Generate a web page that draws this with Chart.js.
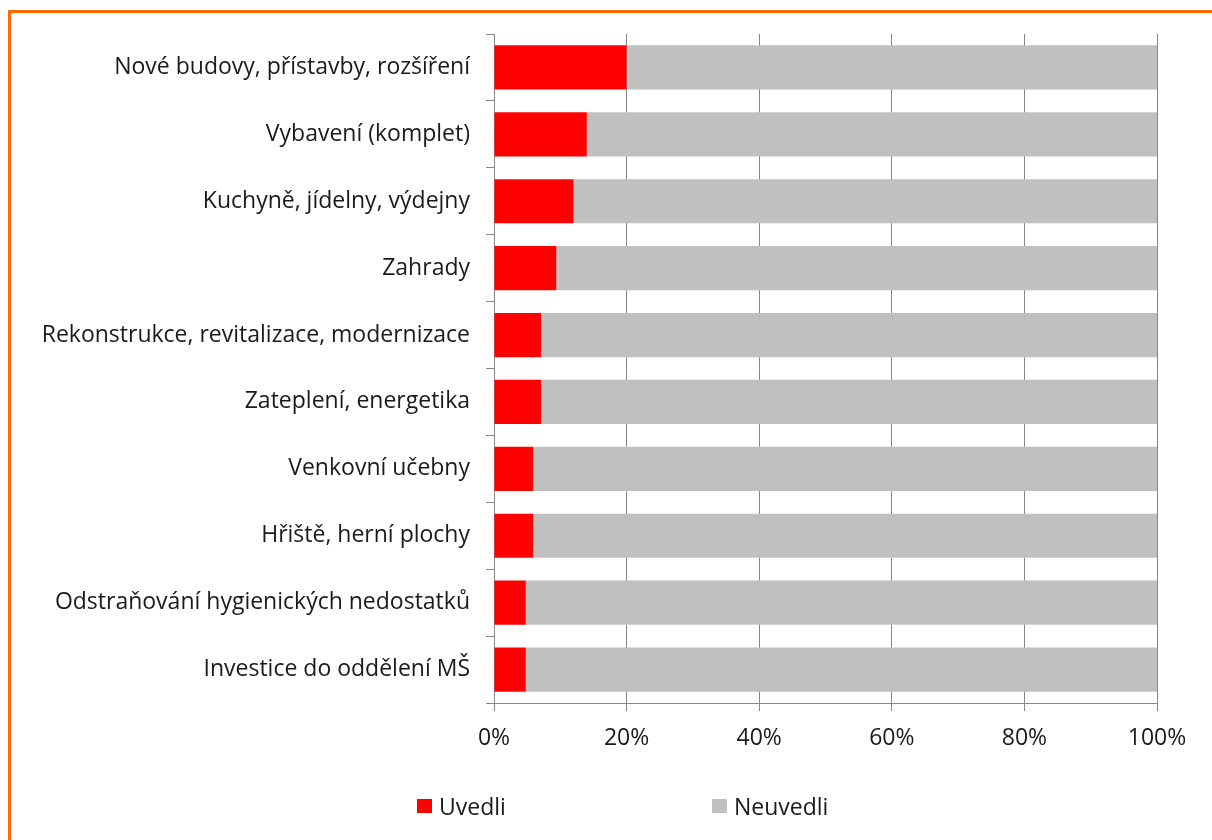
<!DOCTYPE html>
<html>
<head>
<meta charset="utf-8">
<script src="https://cdn.jsdelivr.net/npm/chart.js@4/dist/chart.umd.min.js"></script>
<style>
  html, body { margin:0; padding:0; background:#fff; }
  #wrap { position:relative; width:1212px; height:840px; overflow:hidden; }
  #frame { position:absolute; left:8px; top:10px; width:1300px; height:900px;
           border-left:3px solid #FF6A00; border-top:3px solid #FF6A00; }
  #c { position:absolute; left:0; top:0; }
  #legend { position:absolute; top:790px; left:0; width:1212px; height:30px;
            font-family: "Open Sans", sans-serif; font-size:23px; color:#1a1a1a; }
  .item { position:absolute; top:0; display:flex; align-items:center; }
  .box { width:15px; height:14px; margin-right:7px; }
</style>
</head>
<body>
<div id="wrap">
  <div id="frame"></div>
  <canvas id="c" width="1212" height="840"></canvas>
  <div id="legend"></div>
</div>
<script>
const categories = [
  "Nové budovy, přístavby, rozšíření",
  "Vybavení (komplet)",
  "Kuchyně, jídelny, výdejny",
  "Zahrady",
  "Rekonstrukce, revitalizace, modernizace",
  "Zateplení, energetika",
  "Venkovní učebny",
  "Hřiště, herní plochy",
  "Odstraňování hygienických nedostatků",
  "Investice do oddělení MŠ"
];
const uvedli   = [20, 14, 12, 9.4, 7.1, 7.1, 5.9, 5.9, 4.8, 4.8];
const neuvedli = [80, 86, 88, 90.6, 92.9, 92.9, 94.1, 94.1, 95.2, 95.2];
const seriesNames = ["Uvedli", "Neuvedli"];
const seriesColors = ["#FF0000", "#C0C0C0"];
const xTicks = [0, 20, 40, 60, 80, 100];

const FONT = { family: '"Open Sans", sans-serif', size: 23 };
const GRID = '#868686';

new Chart(document.getElementById('c'), {
  type: 'bar',
  data: {
    labels: categories,
    datasets: [
      { label: seriesNames[0], data: uvedli, backgroundColor: seriesColors[0], borderWidth: 0 },
      { label: seriesNames[1], data: neuvedli, backgroundColor: seriesColors[1], borderWidth: 0 }
    ]
  },
  options: {
    indexAxis: 'y',
    responsive: false,
    animation: false,
    devicePixelRatio: 1,
    layout: { padding: { top: 34, right: 55, left: 0, bottom: 0 } },
    datasets: { bar: { barPercentage: 0.66, categoryPercentage: 1 } },
    plugins: { legend: { display: false }, tooltip: { enabled: false } },
    scales: {
      x: {
        stacked: true, min: 0, max: 100,
        afterBuildTicks: s => { s.ticks = xTicks.map(v => ({ value: v })); },
        afterFit: s => { s.height = 137; },
        ticks: { callback: v => v + '%', font: FONT, color: '#1a1a1a', padding: 14, maxRotation: 0 },
        grid: { color: GRID, lineWidth: 1, tickLength: 8 },
        border: { color: GRID, width: 1 }
      },
      y: {
        stacked: true,
        afterFit: s => { s.width = 494; },
        ticks: { font: FONT, color: '#1a1a1a', padding: 16 },
        grid: { color: GRID, lineWidth: 1, tickLength: 8, drawOnChartArea: false, offset: true },
        border: { color: GRID, width: 1 }
      }
    }
  }
});

const legend = document.getElementById('legend');
const legendX = [417, 712];
seriesNames.forEach((n, i) => {
  const it = document.createElement('div');
  it.className = 'item';
  it.style.left = legendX[i] + 'px';
  const b = document.createElement('span');
  b.className = 'box';
  b.style.background = seriesColors[i];
  const t = document.createElement('span');
  t.textContent = n;
  it.appendChild(b); it.appendChild(t);
  legend.appendChild(it);
});
</script>
</body>
</html>
